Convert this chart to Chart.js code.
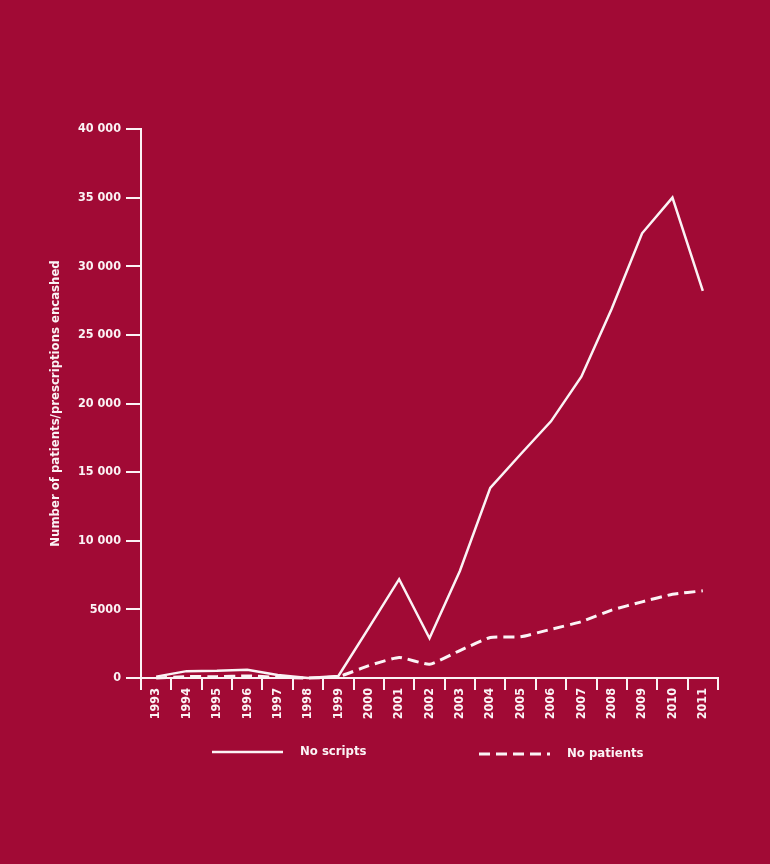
<!DOCTYPE html>
<html>
<head>
<meta charset="utf-8">
<script src="https://cdn.jsdelivr.net/npm/chart.js@4/dist/chart.umd.min.js"></script>
<style>
  html, body { margin: 0; padding: 0; background: #a10a35; }
  #chart { display: block; }
</style>
</head>
<body>
<canvas id="chart" width="770" height="864"></canvas>
<script>
const years = ["1993","1994","1995","1996","1997","1998","1999","2000","2001","2002",
  "2003","2004","2005","2006","2007","2008","2009","2010","2011"];
const noScripts = [100, 500, 520, 600, 220, 0, 150, 3650, 7200, 2900,
  7800, 13850, 16300, 18700, 21950, 26900, 32400, 35000, 28200];
const noPatients = [0, 100, 100, 150, 50, 0, 100, 900, 1500, 1000,
  2000, 2950, 3000, 3550, 4100, 4950, 5550, 6100, 6350];
const yTicks = [0, 5000, 10000, 15000, 20000, 25000, 30000, 35000, 40000];

const WHITE = "#fbf3f5";
const FONT = "'DejaVu Sans Condensed', 'DejaVu Sans', sans-serif";

// legend drawn below the axis, two items side by side
const legendPlugin = {
  id: "lineLegend",
  afterDraw(chart) {
    const ctx = chart.ctx;
    const items = [
      { ds: chart.data.datasets[0], x: 212, y: 752 },
      { ds: chart.data.datasets[1], x: 479, y: 754 }
    ];
    ctx.save();
    items.forEach(it => {
      ctx.strokeStyle = it.ds.borderColor;
      ctx.lineWidth = it.ds.borderWidth;
      ctx.setLineDash(it.ds.borderDash || []);
      ctx.beginPath();
      ctx.moveTo(it.x, it.y);
      ctx.lineTo(it.x + 71, it.y);
      ctx.stroke();
      ctx.setLineDash([]);
      ctx.fillStyle = WHITE;
      ctx.font = "bold 13px " + FONT;
      ctx.textBaseline = "middle";
      ctx.fillText(it.ds.label, it.x + 88, it.y);
    });
    ctx.restore();
  }
};

new Chart(document.getElementById("chart"), {
  type: "line",
  data: {
    labels: years,
    datasets: [
      {
        label: "No scripts",
        data: noScripts,
        borderColor: WHITE,
        borderWidth: 2.5,
        pointRadius: 0,
        tension: 0,
        clip: false
      },
      {
        label: "No patients",
        data: noPatients,
        borderColor: WHITE,
        borderWidth: 3,
        borderDash: [11, 6],
        pointRadius: 0,
        tension: 0.15,
        clip: false
      }
    ]
  },
  options: {
    responsive: false,
    animation: false,
    layout: { padding: { left: 40, right: 52, top: 129, bottom: 136 } },
    plugins: {
      legend: { display: false },
      tooltip: { enabled: false }
    },
    scales: {
      x: {
        type: "category",
        offset: true,
        afterFit: s => { s.height = 50; },
        border: { color: WHITE, width: 2 },
        grid: {
          offset: true,
          drawOnChartArea: false,
          color: WHITE,
          lineWidth: 2,
          tickLength: 12
        },
        ticks: {
          color: WHITE,
          font: { family: FONT, size: 12.5, weight: "bold" },
          minRotation: 90,
          maxRotation: 90,
          padding: -2,
          autoSkip: false
        }
      },
      y: {
        min: 0,
        max: 40000,
        afterFit: s => { s.width = 101; },
        afterBuildTicks: s => { s.ticks = yTicks.map(v => ({ value: v })); },
        border: { color: WHITE, width: 2 },
        grid: {
          drawOnChartArea: false,
          color: WHITE,
          lineWidth: 2,
          tickLength: 15
        },
        ticks: {
          color: WHITE,
          font: { family: FONT, size: 12.5, weight: "bold" },
          padding: 5,
          callback: v => v >= 10000 ? Math.floor(v / 1000) + " 000" : String(v)
        },
        title: {
          display: true,
          text: "Number of patients/prescriptions encashed",
          color: WHITE,
          font: { family: FONT, size: 13, weight: "bold" },
          padding: { top: 8, bottom: 0 }
        }
      }
    }
  },
  plugins: [legendPlugin]
});
</script>
</body>
</html>
